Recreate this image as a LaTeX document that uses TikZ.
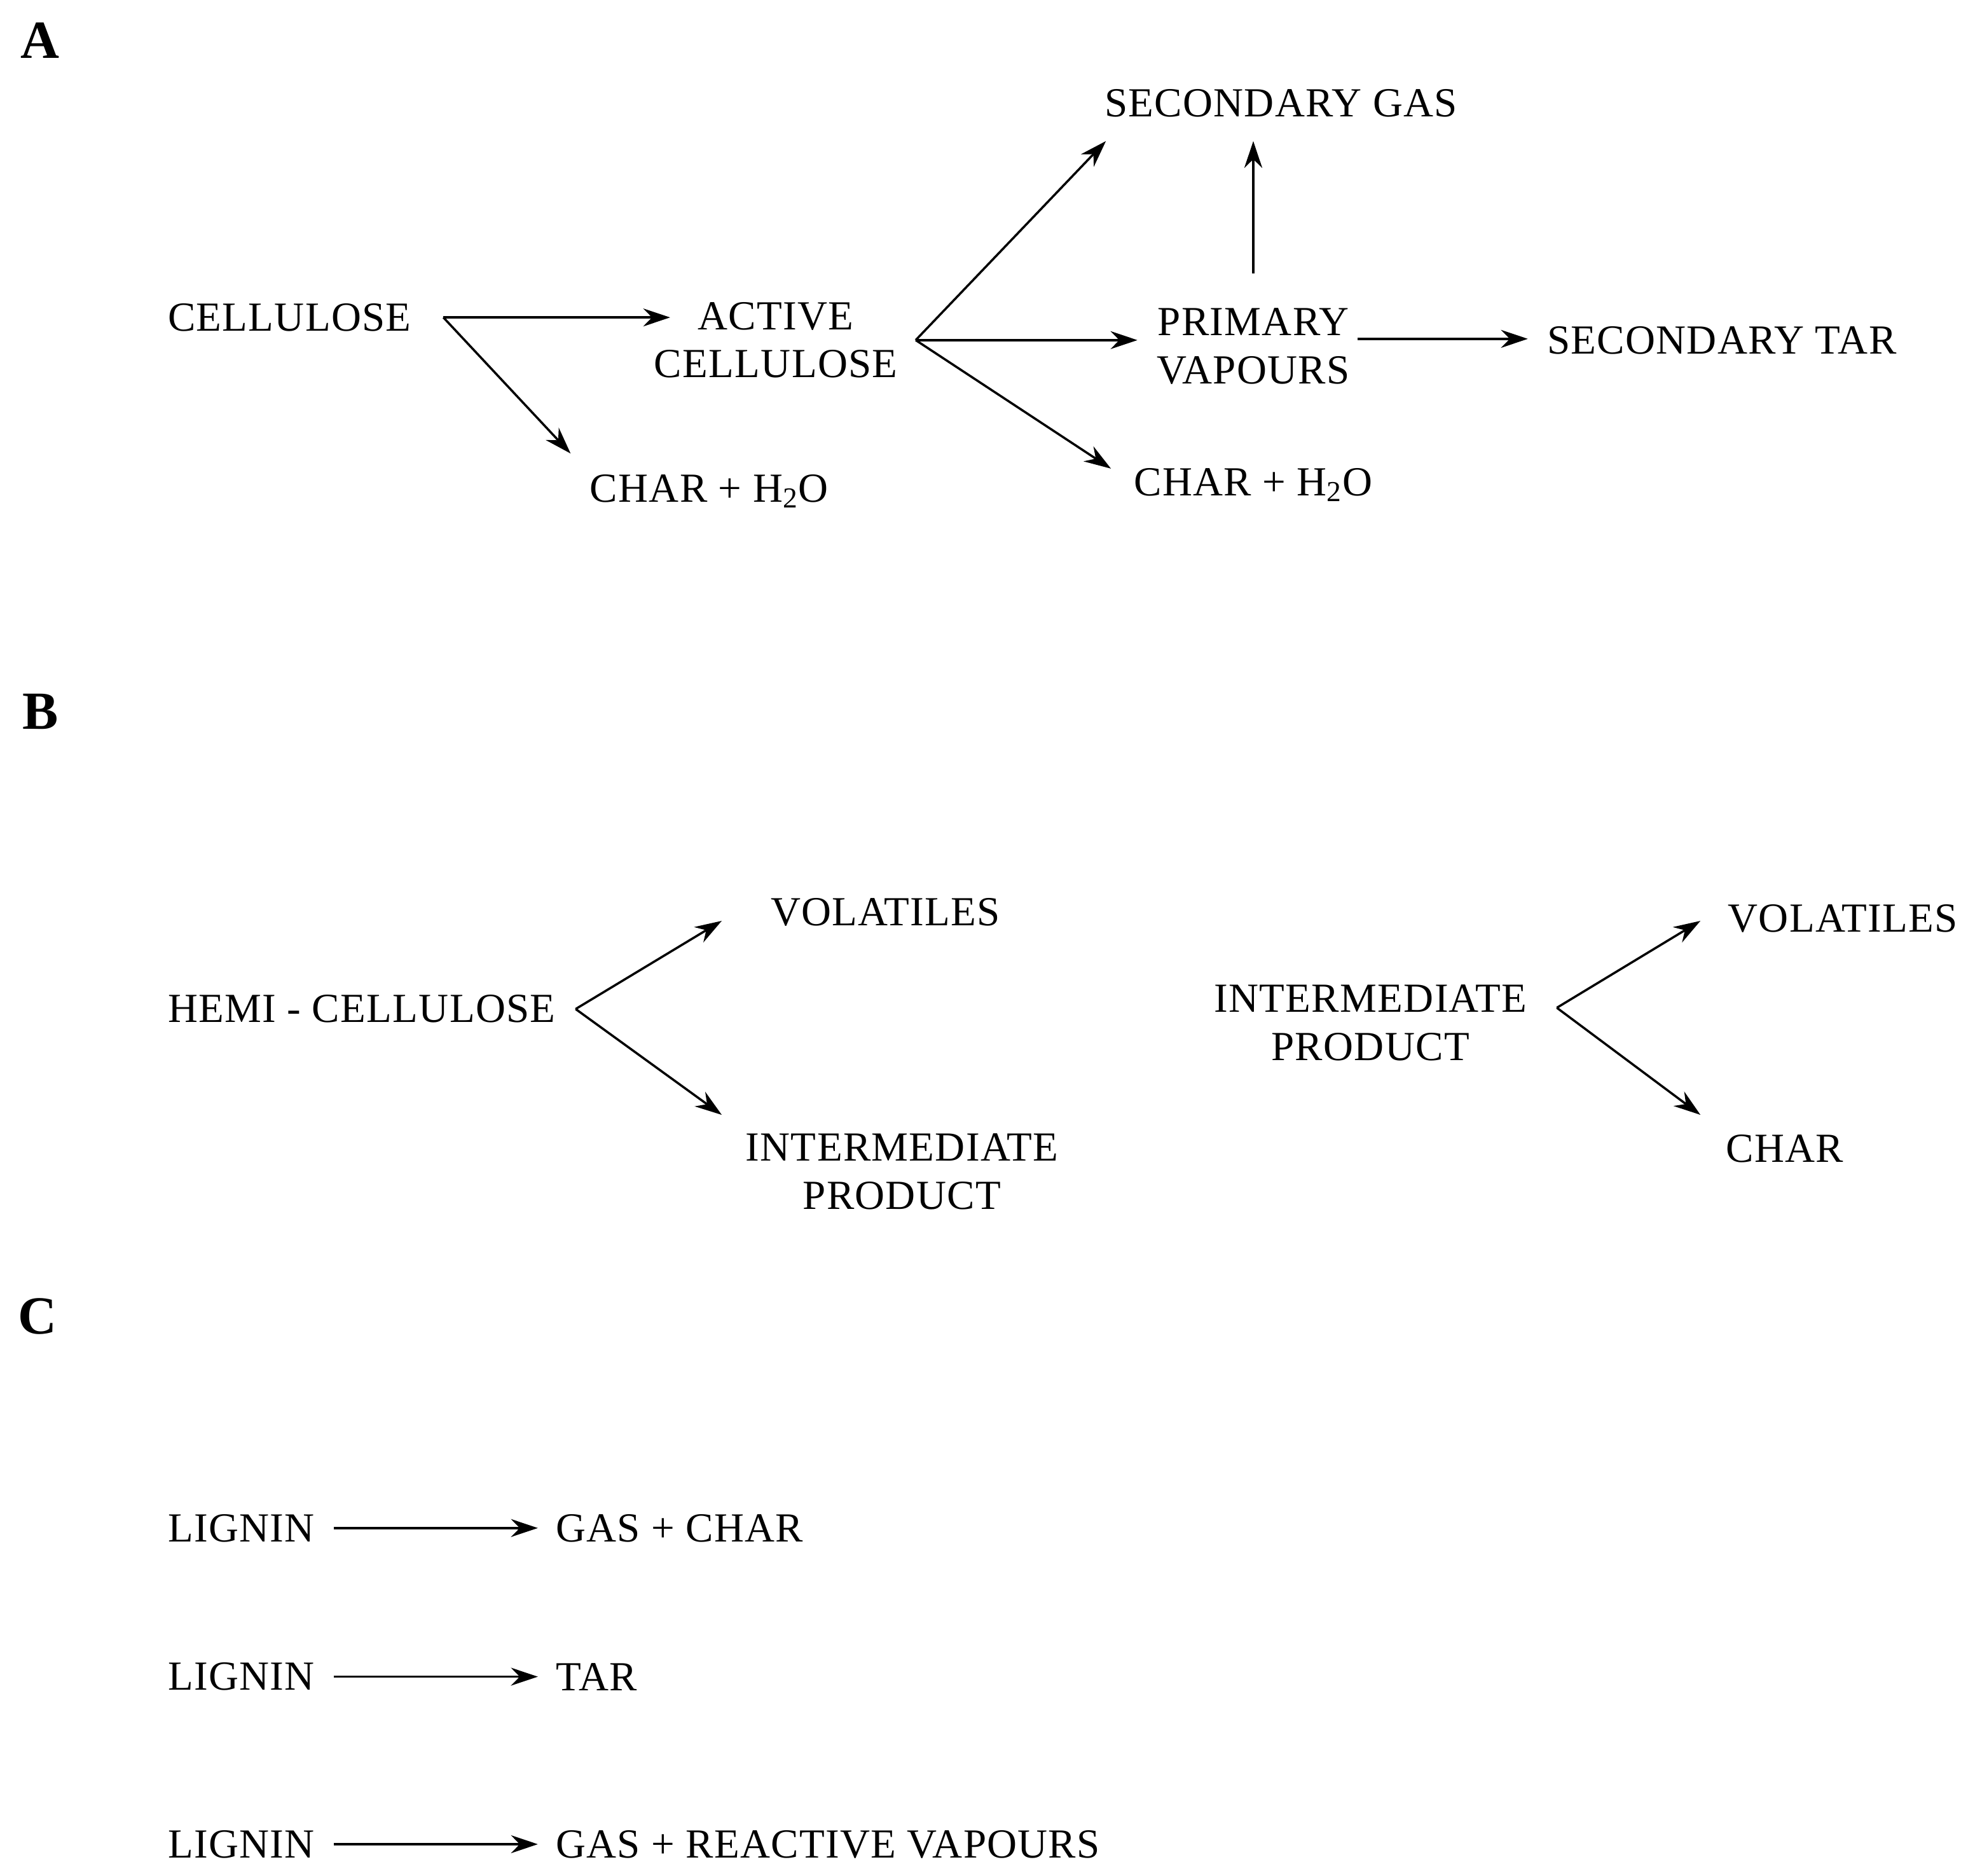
\documentclass[tikz,border=0pt]{standalone}
\usepackage{fontspec}
\setmainfont{Liberation Serif}[LetterSpace=2]
\usetikzlibrary{arrows.meta}
\begin{document}
\begin{tikzpicture}[x=0.01981cm,y=-0.01981cm,
  t/.style={font=\fontsize{18.5}{21.5}\selectfont,align=center,inner sep=0pt},
  lab/.style={font=\fontsize{24}{26}\selectfont\bfseries,inner sep=0pt},
  ar/.style={line width=1pt,-{Stealth[length=12pt,width=8pt]}}]
\useasboundingbox (0,0) rectangle (1568,1489);
\node[lab] (A) at (32,32) {A};
\node[lab] (B) at (32,565) {B};
\node[lab] (C) at (30,1045) {C};
% A
\node[t,anchor=west] (cel) at (133,252) {CELLULOSE};
\node[t] (act) at (616,270) {ACTIVE\\CELLULOSE};
\node[t] (ch1) at (563,390) {CHAR + H\textsubscript{2}O};
\node[t] (sg) at (1017,82) {SECONDARY GAS};
\node[t] (pv) at (995,275) {PRIMARY\\VAPOURS};
\node[t] (st) at (1367,270) {SECONDARY TAR};
\node[t] (ch2) at (995,385) {CHAR + H\textsubscript{2}O};
\coordinate (c0) at (352,252);
\coordinate (c1) at (532,252);
\coordinate (c2) at (453,360);
\coordinate (a0) at (727,270);
\coordinate (a1) at (878,112);
\coordinate (a2) at (903,270);
\coordinate (a3) at (882,372);
\coordinate (p0) at (995,217);
\coordinate (p1) at (995,112);
\coordinate (p2) at (1078,269);
\coordinate (p3) at (1213,269);
\draw[ar] (c0) -- (c1);
\draw[ar] (c0) -- (c2);
\draw[ar] (a0) -- (a1);
\draw[ar] (a0) -- (a2);
\draw[ar] (a0) -- (a3);
\draw[ar] (p0) -- (p1);
\draw[ar] (p2) -- (p3);
% B
\node[t,anchor=west] (hc) at (133,801) {HEMI - CELLULOSE};
\node[t] (v1) at (703,724) {VOLATILES};
\node[t] (ip1) at (716,930) {INTERMEDIATE\\PRODUCT};
\node[t] (ip2) at (1088,812) {INTERMEDIATE\\PRODUCT};
\node[t] (v2) at (1463,729) {VOLATILES};
\node[t,anchor=west] (ch3) at (1370,912) {CHAR};
\coordinate (h0) at (457,801);
\coordinate (h1) at (573,731);
\coordinate (h2) at (573,885);
\coordinate (i0) at (1236,800);
\coordinate (i1) at (1350,731);
\coordinate (i2) at (1350,885);
\draw[ar] (h0) -- (h1);
\draw[ar] (h0) -- (h2);
\draw[ar] (i0) -- (i1);
\draw[ar] (i0) -- (i2);
% C
\foreach \n/\y/\txt in {1/1213/GAS + CHAR,2/1331/TAR,3/1464/GAS + REACTIVE VAPOURS}{
  \node[t,anchor=west] (l\n) at (133,\y) {LIGNIN};
  \node[t,anchor=west] (g\n) at (441,\y) {\txt};
  \coordinate (ls\n) at (265,\y);
  \coordinate (le\n) at (427,\y);
  \draw[ar] (ls\n) -- (le\n);
}
\end{tikzpicture}
\end{document}
